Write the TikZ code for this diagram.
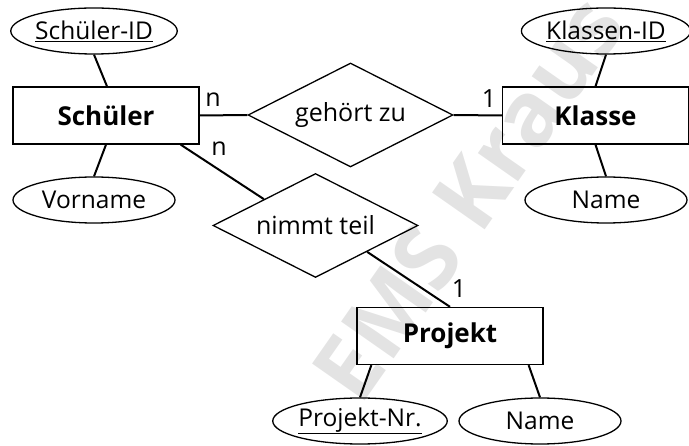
\documentclass[tikz,border=0pt]{standalone}
\usepackage{fontspec}
\setmainfont{Open Sans}
\usetikzlibrary{shapes.geometric}
\tikzset{
  entity/.style={draw, line width=1.3pt, minimum width=186pt, minimum height=57pt, inner sep=0pt, font=\bfseries\fontsize{26}{28}\selectfont},
  attr/.style={draw, ellipse, line width=1.3pt, minimum width=162pt, minimum height=46pt, inner sep=0pt, font=\fontsize{24.5}{27}\selectfont},
  rel/.style={draw, diamond, aspect=2, line width=1.3pt, minimum width=205pt, minimum height=104pt, inner sep=0pt, font=\fontsize{25}{27}\selectfont},
  conn/.style={line width=2pt},
  card/.style={font=\fontsize{25}{27}\selectfont, inner sep=0pt},
  wmark/.style={text=gray!22, font=\bfseries\fontsize{90}{100}\selectfont, rotate=55}
}
\begin{document}
\begin{tikzpicture}[x=1pt,y=-1pt]
\useasboundingbox (0,0) rectangle (689,446);
\node[wmark] (wm) at (468,198) {EMS Kraus};
\node[attr] (sid) at (94,31) {\underline{Schüler-ID}};
\node[entity] (s) at (106,115.5) {Schüler};
\node[attr] (vn) at (94,200) {Vorname};
\node[rel] (g) at (350.5,115) {gehört zu};
\node[attr] (kid) at (606,31) {\underline{Klassen-ID}};
\node[entity] (k) at (595.5,115.5) {Klasse};
\node[attr] (kn) at (606,200) {Name};
\node[rel] (nt) at (315.5,225.5) {nimmt teil};
\node[entity] (p) at (450,336) {Projekt};
\node[attr] (pnr) at (360,421) {\underline{Projekt-Nr.}};
\node[attr] (pn) at (540,421) {Name};
\draw[conn] (sid.south) -- ([xshift=1pt]s.north);
\draw[conn] (s.south) -- (vn.north);
\draw[conn] (kid.south) -- (k.north);
\draw[conn] (k.south) -- (kn.north);
\draw[conn] (s.east) -- (g.west);
\draw[conn] (g.east) -- (k.west);
\draw[conn] ([xshift=-19pt]s.south east) -- (nt.north west);
\draw[conn] (nt.south east) -- (p.north);
\draw[conn] ([xshift=15pt]p.south west) -- (pnr.north);
\draw[conn] ([xshift=-15pt]p.south east) -- (pn.north);
\node[card] (c1) at (213,100) {n};
\node[card] (c2) at (219,149) {n};
\node[card] (c3) at (489,99) {1};
\node[card] (c4) at (459,289) {1};
\end{tikzpicture}
\end{document}
